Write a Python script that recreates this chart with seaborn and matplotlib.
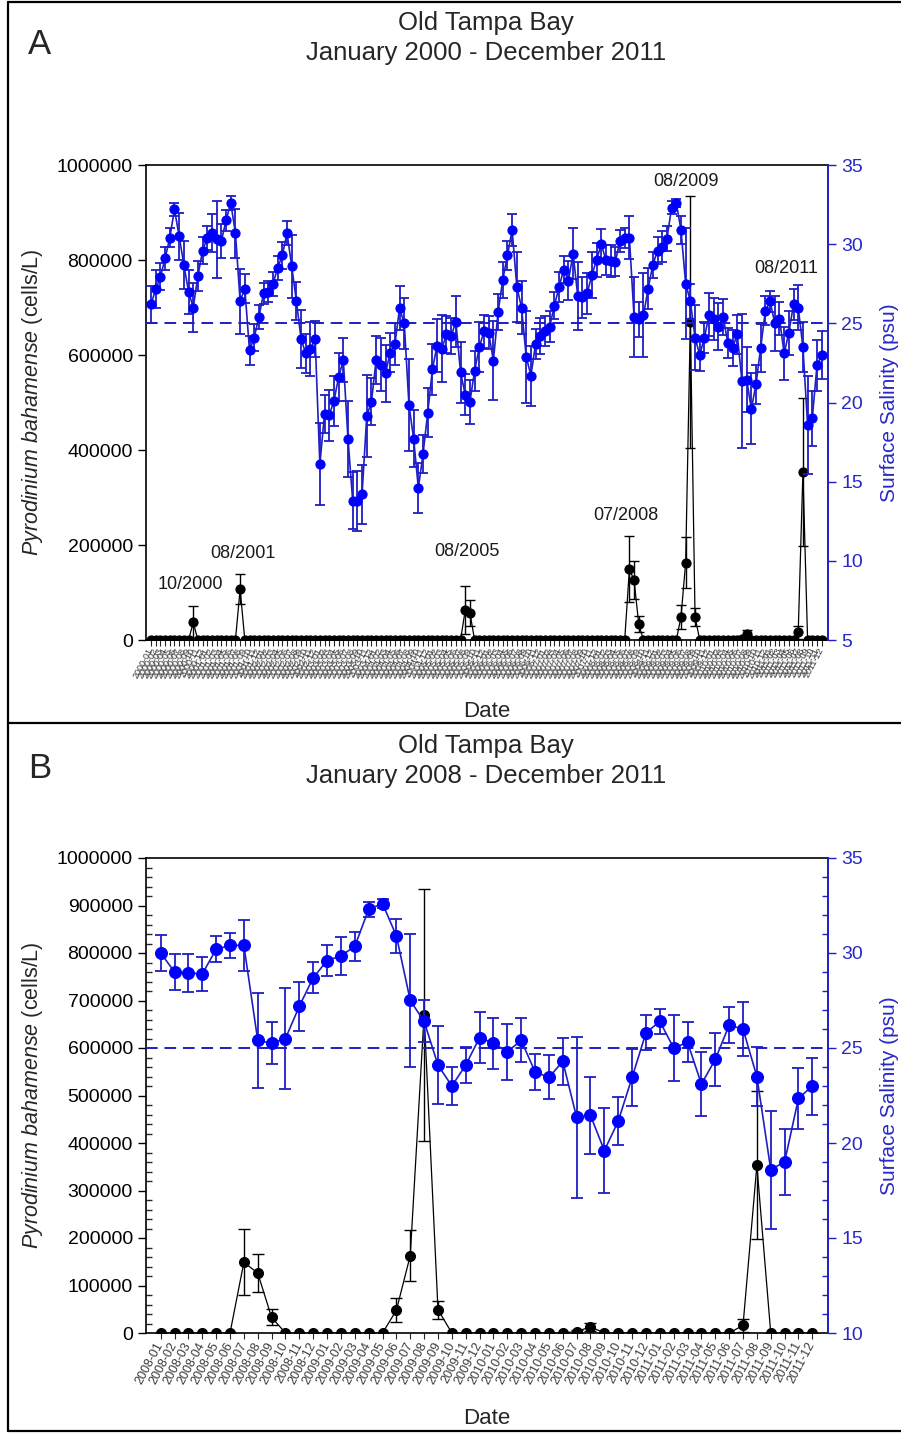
import numpy as np
import pandas as pd
import matplotlib
matplotlib.use("Agg")
import matplotlib.pyplot as plt
import seaborn as sns
from matplotlib.ticker import MultipleLocator, FuncFormatter, NullLocator
from matplotlib.lines import Line2D

sns.set_style("ticks")
plt.rcParams["font.family"] = ["Liberation Sans", "DejaVu Sans"]
plt.rcParams["mathtext.fontset"] = "custom"
plt.rcParams["mathtext.it"] = "Liberation Sans:italic"
plt.rcParams["mathtext.rm"] = "Liberation Sans"

# ---------------------------------------------------------------- data
months = pd.date_range("2000-01-01", "2011-12-01", freq="MS").strftime("%Y-%m").tolist()

# monthly mean surface salinity (psu)
salinity = [
    26.2, 27.15, 27.95, 29.1, 30.4, 32.2, 30.5, 28.7, 27.0, 26.0, 28.0, 29.6,
    30.4, 30.7, 30.3, 30.2, 31.5, 32.6, 30.7, 26.4, 27.2, 23.3, 24.1, 25.4,
    26.9, 27.0, 27.5, 28.5, 29.3, 30.7, 28.6, 26.4, 24.0, 23.1, 23.4, 24.0,
    16.1, 19.3, 19.2, 20.1, 21.6, 22.7, 17.7, 13.8, 13.8, 14.2, 19.15, 20.05,
    22.7, 22.4, 21.85, 23.15, 23.7, 25.95, 25.0, 19.85, 17.7, 14.6, 16.75, 19.35,
    22.1, 23.6, 23.4, 24.3, 24.2, 25.1, 21.9, 20.5, 20.05, 22.0, 23.5, 24.5,
    24.4, 22.65, 25.7, 27.75, 29.3, 30.9, 27.3, 26.0, 22.9, 21.7, 23.7, 24.2,
    24.5, 24.8, 26.1, 27.3, 28.4, 27.7, 29.4, 26.7, 26.65, 26.9, 28.05, 29.0,
    30.0, 29.0, 28.95, 28.9, 30.2, 30.4, 30.4, 25.4, 25.25, 25.5, 27.2, 28.7,
    29.6, 29.85, 30.35, 32.3, 32.6, 30.9, 27.5, 26.4, 24.1, 23.0, 24.1, 25.55,
    25.25, 24.8, 25.4, 23.75, 23.45, 24.3, 21.35, 21.45, 19.6, 21.15, 23.45, 25.8,
    26.4, 25.0, 25.3, 23.1, 24.4, 26.2, 26.0, 23.5, 18.6, 19.0, 22.35, 23.0,
]

# standard deviation of salinity (psu)
salinity_sd = [
    1.15, 1.2, 0.85, 0.75, 0.6, 0.4, 1.5, 1.5, 1.4, 1.55, 0.95, 0.85,
    0.75, 1.2, 2.45, 1.05, 0.65, 0.45, 1.55, 2.05, 0.9, 0.9, 0.85, 0.75,
    0.65, 0.65, 0.75, 0.75, 0.85, 0.75, 2.0, 1.2, 1.85, 1.25, 1.7, 1.15,
    2.6, 1.2, 1.6, 1.6, 1.5, 1.4, 2.4, 1.8, 1.9, 1.85, 2.6, 1.5,
    1.5, 1.7, 1.8, 1.25, 1.3, 1.4, 1.6, 2.9, 1.8, 1.55, 1.2, 1.55,
    1.6, 1.7, 2.1, 1.15, 1.15, 1.6, 1.95, 1.3, 1.4, 1.25, 1.6, 1.05,
    1.05, 2.5, 1.15, 1.15, 0.9, 1.0, 2.2, 1.65, 2.9, 1.9, 0.95, 1.15,
    0.95, 1.0, 0.85, 0.95, 0.85, 1.25, 1.6, 2.15, 1.3, 1.3, 1.45, 1.05,
    0.93, 0.95, 1.0, 0.9, 0.7, 0.65, 1.35, 2.5, 1.1, 2.65, 1.28, 0.83,
    0.83, 1.0, 0.77, 0.4, 0.23, 0.9, 3.5, 1.1, 2.05, 1.0, 0.96, 1.35,
    1.33, 1.46, 1.16, 0.96, 1.16, 1.23, 4.25, 2.05, 2.25, 1.25, 1.5, 0.93,
    0.67, 1.75, 1.05, 1.67, 1.4, 0.96, 1.4, 1.56, 3.1, 1.75, 1.6, 1.5,
]

# Pyrodinium bahamense abundance (cells/L)
cells = [
    0, 0, 0, 0, 0, 0, 0, 0, 0, 37000, 0, 0,
    0, 0, 0, 0, 0, 0, 0, 107000, 0, 0, 0, 0,
    0, 0, 0, 0, 0, 0, 0, 0, 0, 0, 0, 0,
    0, 0, 0, 0, 0, 0, 0, 0, 0, 0, 0, 0,
    0, 0, 0, 0, 0, 0, 0, 0, 0, 0, 0, 0,
    0, 0, 0, 0, 0, 0, 0, 63000, 57000, 0, 0, 0,
    0, 0, 0, 0, 0, 0, 0, 0, 0, 0, 0, 0,
    0, 0, 0, 0, 0, 0, 0, 0, 0, 0, 0, 0,
    0, 0, 0, 0, 0, 0, 149000, 126000, 33000, 0, 0, 0,
    0, 0, 0, 0, 0, 48000, 163000, 670000, 49000, 0, 0, 0,
    0, 0, 0, 0, 0, 0, 3000, 13000, 0, 0, 0, 0,
    0, 0, 0, 0, 0, 0, 16000, 353000, 0, 0, 0, 0,
]

cells_sd = [
    0, 0, 0, 0, 0, 0, 0, 0, 0, 34000, 0, 0,
    0, 0, 0, 0, 0, 0, 0, 32000, 0, 0, 0, 0,
    0, 0, 0, 0, 0, 0, 0, 0, 0, 0, 0, 0,
    0, 0, 0, 0, 0, 0, 0, 0, 0, 0, 0, 0,
    0, 0, 0, 0, 0, 0, 0, 0, 0, 0, 0, 0,
    0, 0, 0, 0, 0, 0, 0, 50000, 28000, 0, 0, 0,
    0, 0, 0, 0, 0, 0, 0, 0, 0, 0, 0, 0,
    0, 0, 0, 0, 0, 0, 0, 0, 0, 0, 0, 0,
    0, 0, 0, 0, 0, 0, 70000, 40000, 17000, 0, 0, 0,
    0, 0, 0, 0, 0, 25000, 54000, 265000, 19000, 0, 0, 0,
    0, 0, 0, 0, 0, 0, 3000, 8000, 0, 0, 0, 0,
    0, 0, 0, 0, 0, 0, 14000, 156000, 0, 0, 0, 0,
]

bloom_labels = ["10/2000", "08/2001", "08/2005", "07/2008", "08/2009", "08/2011"]
bloom_label_xy = [(8.3, 116000), (19.6, 183000), (67.4, 187000),
                  (101.3, 263000), (114.1, 966000), (135.4, 783000)]

panel_titles = ["Old Tampa Bay\nJanuary 2000 - December 2011",
                "Old Tampa Bay\nJanuary 2008 - December 2011"]

salinity_threshold = 25

df_all = pd.DataFrame({"month": months, "sal": salinity, "sal_sd": salinity_sd,
                       "cells": cells, "cells_sd": cells_sd})

# ---------------------------------------------------------------- styling
BLUE = "#0000ff"
BLUE_LINE = "#1e1ec4"
BLUE_TEXT = "#2828c8"
W, H = 901, 1433

fig = plt.figure(figsize=(W / 100, H / 100), dpi=100)


def px_axes(left, top, right, bottom):
    return fig.add_axes([left / W, 1 - bottom / H, (right - left) / W, (bottom - top) / H])


def draw_panel(ax, df, sal_min, cells_major, minor, xlim, sty):
    df = df.reset_index(drop=True)
    df["pos"] = np.arange(len(df))

    # cell counts (left axis)
    bars = df[df["cells_sd"] > 0]
    ax.errorbar(bars["pos"], bars["cells"], yerr=bars["cells_sd"], fmt="none",
                ecolor="black", elinewidth=1.0, capsize=sty["cap_b"], capthick=1.0, zorder=2)
    sns.lineplot(data=df, x="pos", y="cells", ax=ax, color="black", linewidth=0.9,
                 marker="o", markersize=sty["ms_b"], markerfacecolor="black",
                 markeredgecolor="black", zorder=3)
    ax.set_xlim(*xlim)
    ax.set_ylim(0, 1000000)
    ax.yaxis.set_major_locator(MultipleLocator(cells_major))
    ax.yaxis.set_major_formatter(FuncFormatter(lambda v, p: f"{int(round(v))}"))
    if minor:
        ax.yaxis.set_minor_locator(MultipleLocator(20000))
        ax.tick_params(axis="y", which="minor", direction="in", length=4, width=1)
    ax.tick_params(axis="y", which="major", direction="out", length=6, width=1,
                   labelsize=14, colors="black")
    ax.set_xticks(df["pos"])
    ax.set_xticklabels(df["month"], rotation=62, ha="right", va="center",
                       rotation_mode="anchor", fontsize=sty["xfs"], color="#3a3a3a")
    ax.tick_params(axis="x", direction="out", length=4, width=0.8, pad=sty["xpad"])
    ax.xaxis.set_minor_locator(NullLocator())
    for s in ["left", "top", "bottom"]:
        ax.spines[s].set_color("black")
        ax.spines[s].set_linewidth(1.2)
    ax.spines["right"].set_visible(False)
    ax.set_ylabel(r"$\it{Pyrodinium\ bahamense}$ (cells/L)", fontsize=15.5)
    ax.yaxis.set_label_coords(-0.148, 0.5)
    ax.set_xlabel("Date", fontsize=16)
    ax.xaxis.set_label_coords(0.5, sty["date_y"])

    # salinity (right axis)
    ax2 = ax.twinx()
    ax2.errorbar(df["pos"], df["sal"], yerr=df["sal_sd"], fmt="none", ecolor=BLUE_LINE,
                 elinewidth=1.3, capsize=sty["cap_s"], capthick=1.3, zorder=2)
    sns.lineplot(data=df, x="pos", y="sal", ax=ax2, color=BLUE_LINE, linewidth=1.2,
                 marker="o", markersize=sty["ms_s"], markerfacecolor=BLUE,
                 markeredgecolor=BLUE, zorder=3)
    ax2.axhline(salinity_threshold, color=BLUE_LINE, linewidth=1.4,
                linestyle=(0, (6, 3.5)), zorder=1)
    ax2.set_xlim(*xlim)
    ax2.set_ylim(sal_min, 35)
    ax2.yaxis.set_major_locator(MultipleLocator(5))
    if minor:
        ax2.yaxis.set_minor_locator(MultipleLocator(1))
        ax2.tick_params(axis="y", which="minor", direction="in", length=4, width=1,
                        colors=BLUE_LINE)
    ax2.tick_params(axis="y", which="major", direction="out", length=6, width=1,
                    labelsize=14, colors=BLUE_LINE, labelcolor=BLUE_TEXT)
    for s in ["left", "top", "bottom"]:
        ax2.spines[s].set_visible(False)
    ax2.spines["right"].set_color(BLUE_LINE)
    ax2.spines["right"].set_linewidth(1.4)
    ax2.set_ylabel("Surface Salinity (psu)", fontsize=15, color=BLUE_TEXT)
    ax2.yaxis.set_label_coords(1.076, 0.5)
    ax2.set_xlabel("")
    return ax, ax2


# ---------------------------------------------------------------- panel A
axA = px_axes(146, 165, 828, 640)
draw_panel(axA, df_all, 5, 200000, False, (-1.07, 144.35),
           dict(ms_b=6.6, ms_s=6.6, cap_b=3.5, cap_s=3.4, xfs=6.5, xpad=2, date_y=-0.128))
for label, (x, y) in zip(bloom_labels, bloom_label_xy):
    axA.text(x, y, label, ha="center", va="center", fontsize=13, color="#1a1a1a", zorder=6)

# ---------------------------------------------------------------- panel B
axB = px_axes(146, 858, 828, 1333)
draw_panel(axB, df_all.iloc[-48:], 10, 100000, True, (-1.06, 48.13),
           dict(ms_b=7.2, ms_s=8.6, cap_b=4.5, cap_s=4.6, xfs=9, xpad=3, date_y=-0.158))

# ---------------------------------------------------------------- titles and frames
for top, letter, title in [(0, "A", panel_titles[0]), (723, "B", panel_titles[1])]:
    fig.text(486 / W, 1 - (top + 38) / H, title,
             ha="center", va="center", fontsize=18.5, linespacing=1.32)
    fig.text(40 / W, 1 - (top + 45) / H, letter, ha="center", va="center", fontsize=25)

frame_kw = dict(color="black", linewidth=1.6, transform=fig.transFigure)
for y in [2, 723, 1431]:
    fig.add_artist(Line2D([8 / W, 1.0], [1 - y / H, 1 - y / H], **frame_kw))
fig.add_artist(Line2D([8 / W, 8 / W], [1 - 2 / H, 1 - 1431 / H], **frame_kw))

fig.savefig("out.png", dpi=100, facecolor="white")
